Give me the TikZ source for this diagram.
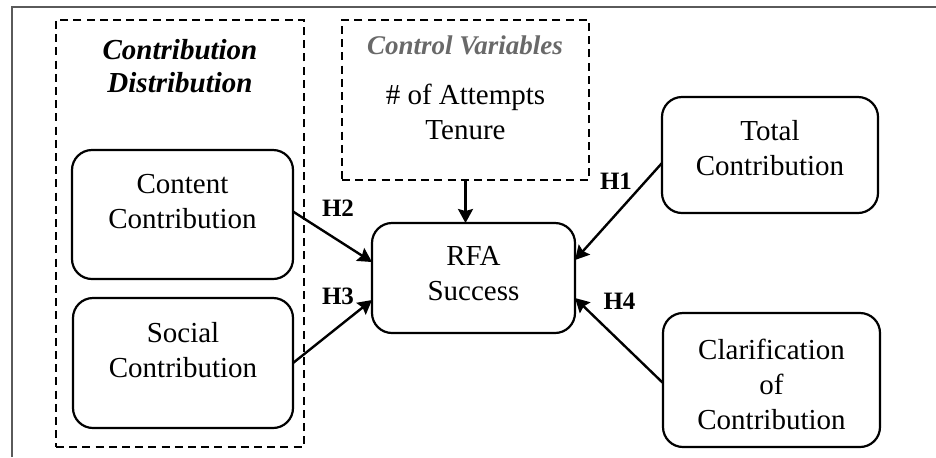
\documentclass[tikz,border=0pt]{standalone}
\usepackage{fontspec}
\setmainfont{Liberation Serif}
\usepackage{xcolor}
\usepackage{tikz}
\usetikzlibrary{arrows.meta,positioning}

\definecolor{framegray}{RGB}{90,90,90}
\definecolor{titlegray}{RGB}{105,105,105}

\tikzset{
    varbox/.style={draw, line width=1.1pt, rounded corners=10pt, outer sep=0pt, inner sep=0pt},
    groupbox/.style={draw, line width=0.8pt, dash pattern=on 4pt off 2.6pt, outer sep=0pt, inner sep=0pt},
    vartext/.style={align=center, inner sep=0pt, font=\fontsize{14.5}{17.5}\selectfont},
    grouptitle/.style={align=center, inner sep=0pt, font=\fontsize{14.5}{16.5}\selectfont\bfseries\itshape},
    hyplabel/.style={inner sep=0pt, font=\fontsize{12.5}{14}\selectfont\bfseries},
    effect/.style={line width=1.2pt, -{Stealth[length=7pt,width=7.5pt,inset=1pt]}}
}

\begin{document}
\begin{tikzpicture}[x=0.5pt, y=-0.5pt]
    \useasboundingbox (0,0) rectangle (936,457);

    % Frame
    \draw[framegray, line width=0.8pt] (12,457) -- (12,7) -- (936,7);

    % Groups
    \node[groupbox, minimum width=124pt, minimum height=213.5pt] (distgroup) at (180,233.5) {};
    \node[grouptitle] (disttitle) at (180,66) {Contribution\\Distribution};

    \node[groupbox, minimum width=123.5pt, minimum height=80pt] (ctrl) at (465.5,100) {};
    \node[grouptitle, titlegray, font=\fontsize{13.5}{15}\selectfont\bfseries\itshape] (ctrltitle) at (465,45) {Control Variables};
    \node[vartext] (ctrllbl) at (465.5,112) {\# of Attempts\\Tenure};

    % Variables
    \node[varbox, minimum width=110.5pt, minimum height=64.5pt] (content) at (182.5,214.5) {};
    \node[vartext] (contentlbl) at (182.5,202) {Content\\Contribution};

    \node[varbox, minimum width=110pt, minimum height=65pt] (social) at (183,363) {};
    \node[vartext] (sociallbl) at (183,350) {Social\\Contribution};

    \node[varbox, minimum width=101.5pt, minimum height=55pt] (rfa) at (473.5,278) {};
    \node[vartext] (rfalbl) at (473.5,273.5) {RFA\\Success};

    \node[varbox, minimum width=108pt, minimum height=58pt] (total) at (770,155) {};
    \node[vartext] (totallbl) at (770,148.5) {Total\\Contribution};

    \node[varbox, minimum width=108.5pt, minimum height=67pt] (clar) at (771.5,380) {};
    \node[vartext] (clarlbl) at (771.5,384.5) {Clarification\\of\\Contribution};

    % Hypotheses
    \draw[effect] (ctrl.south) -- (ctrl.south |- rfa.north);
    \draw[effect] ([yshift=-4pt]total.west) -- ([yshift=9pt]rfa.east);
    \draw[effect] ([yshift=1.5pt]content.east) -- ([yshift=8pt]rfa.west);
    \draw[effect] (social.east) -- ([yshift=-11pt]rfa.west);
    \draw[effect] ([yshift=-1.5pt]clar.west) -- ([yshift=-10pt]rfa.east);

    \node[hyplabel] (h1) at (616,181) {H1};
    \node[hyplabel] (h2) at (338,208) {H2};
    \node[hyplabel] (h3) at (338,296) {H3};
    \node[hyplabel] (h4) at (619.5,301) {H4};

\end{tikzpicture}
\end{document}
